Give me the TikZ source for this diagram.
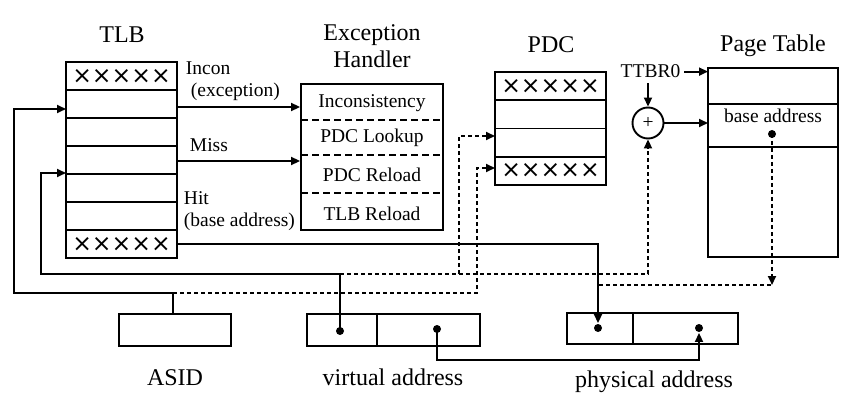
\documentclass[tikz,border=0pt]{standalone}
\usepackage{fontspec}
\setmainfont{Liberation Serif}
\newfontfamily\crossfont{DejaVu Sans}
\usetikzlibrary{arrows.meta,calc}
\begin{document}
\begin{tikzpicture}[x=1pt,y=-1pt,
  line width=1.9pt,
  bigtxt/.style={font=\fontsize{24}{24}\selectfont, inner sep=0pt, anchor=base},
  smalltxt/.style={font=\fontsize{19.5}{20}\selectfont, inner sep=0pt},
  cell/.style={draw, minimum width=#1, minimum height=28pt, inner sep=0pt, outer sep=0pt},
  cell/.default=111pt,
  xx/.style={font=\crossfont\fontsize{23.5}{23.5}\selectfont},
  arr/.style={-{Triangle[length=9pt,width=8pt]}},
  dotline/.style={dash pattern=on 4pt off 3pt},
  ehdash/.style={dash pattern=on 7pt off 4pt},
  blob/.style={circle, fill, inner sep=0pt, minimum size=8pt}
]
\useasboundingbox (0,0) rectangle (850,403);

% ---------- TLB ----------
\node[bigtxt] (tlbtitle) at (122,43) {TLB};
\node[cell, xx] (t1) at (121.5,76) {×××××};
\node[cell] (t2) at (121.5,104) {};
\node[cell] (t3) at (121.5,132) {};
\node[cell] (t4) at (121.5,160) {};
\node[cell] (t5) at (121.5,188) {};
\node[cell] (t6) at (121.5,216) {};
\node[cell, xx] (t7) at (121.5,244) {×××××};

\node[smalltxt, anchor=base west] (lincon) at (185,75) {Incon};
\node[smalltxt, anchor=base west] (lexc) at (190,96.5) {(exception)};
\node[smalltxt, anchor=base west] (lmiss) at (189,152) {Miss};
\node[smalltxt, anchor=base west] (lhit) at (183,205) {Hit};
\node[smalltxt, anchor=base west] (lbase) at (183,226.5) {(base address)};

% ---------- Exception handler ----------
\node[bigtxt] (ehtitle1) at (372,41) {Exception};
\node[bigtxt] (ehtitle2) at (372,68) {Handler};
\node[draw, minimum width=142pt, minimum height=146pt, inner sep=0pt] (eh) at (372,157) {};
\draw[ehdash] (301,120) -- (443,120);
\draw[ehdash] (301,155) -- (443,155);
\draw[ehdash] (301,193) -- (443,193);
\node[smalltxt, anchor=base] (eh1) at (372,108) {Inconsistency};
\node[smalltxt, anchor=base] (eh2) at (372,142.5) {PDC Lookup};
\node[smalltxt, anchor=base] (eh3) at (372,181.5) {PDC Reload};
\node[smalltxt, anchor=base] (eh4) at (372,220) {TLB Reload};

\coordinate (i1) at (177,107);
\coordinate (i2) at (177,161);
\draw[arr] (i1) -- (i1 -| eh.west);
\draw[arr] (i2) -- (i2 -| eh.west);

% ---------- PDC ----------
\node[bigtxt] (pdctitle) at (551,53) {PDC};
\node[cell, minimum height=28.25pt, xx] (p1) at (550.5,86.1) {×××××};
\node[cell, minimum height=28.25pt] (p2) at (550.5,114.4) {};
\node[cell, minimum height=28.25pt] (p3) at (550.5,142.6) {};
\node[cell, minimum height=28.25pt, xx] (p4) at (550.5,170.9) {×××××};

% ---------- Page table ----------
\node[bigtxt] (pttitle) at (773,52) {Page Table};
\node[cell=130pt, minimum height=36pt] (pt1) at (773,86) {};
\node[cell=130pt, minimum height=43pt] (pt2) at (773,125.5) {};
\node[cell=130pt, minimum height=110pt] (pt3) at (773,202) {};
\node[smalltxt, anchor=base] (ba) at (773,123) {base address};
\node[blob] (bad) at (772,134) {};

\node[smalltxt, anchor=base] (ttbr) at (650.5,78) {TTBR0};
\node[draw, circle, minimum size=31pt, inner sep=0pt, font=\fontsize{19.5}{20}\selectfont] (plus) at (648,123) {+};
\draw[arr] ($(ttbr.east)+(3,0)$) -- (ttbr.east -| pt1.west);
\draw[arr] ($(plus.north |- ttbr.south)+(0,4)$) -- (plus.north);
\draw[arr] (plus.east) -- (plus.east -| pt2.west);

\coordinate (c1) at (772,285);
\coordinate (c2) at (599,285);
\draw[dotline, arr] (bad.center) -- (c1);
\draw[dotline] (c2) -- (c1);

% ---------- bottom boxes ----------
\node[draw, minimum width=112pt, minimum height=32pt, inner sep=0pt] (asid) at (175,330) {};
\node[draw, minimum width=70pt, minimum height=32pt, inner sep=0pt] (va1) at (342,330) {};
\node[draw, minimum width=103pt, minimum height=32pt, inner sep=0pt] (va2) at (428.5,330) {};
\node[draw, minimum width=66pt, minimum height=31pt, inner sep=0pt] (pa1) at (600,328.5) {};
\node[draw, minimum width=105pt, minimum height=31pt, inner sep=0pt] (pa2) at (685.5,328.5) {};
\node[blob] (vd1) at (340,331) {};
\node[blob] (vd2) at (437,329) {};
\node[blob] (pd1) at (598,328) {};
\node[blob] (pd2) at (699,328) {};

\node[bigtxt] (lasid) at (175,385) {ASID};
\node[bigtxt] (lva) at (393,385) {virtual address};
\node[bigtxt] (lpa) at (654,387) {physical address};

% ---------- connectors ----------
\coordinate (a1) at (173,293);
\coordinate (a2) at (14,293);
\coordinate (a3) at (14,109);
\draw[arr] (asid.north -| a1) -- (a1) -- (a2) -- (a3) -- (a3 -| t2.west);
\coordinate (a4) at (477,293);
\coordinate (a5) at (477,168);
\draw[dotline, arr] (a1) -- (a4) -- (a5) -- (a5 -| p4.west);

\coordinate (v1) at (340,274);
\coordinate (v2) at (41,274);
\coordinate (v3) at (41,173);
\draw[arr] (vd1.center) -- (v1) -- (v2) -- (v3) -- (v3 -| t5.west);
\coordinate (v4) at (648,274);
\draw[dotline, arr] (v1) -- (v4) -- (plus.south);
\coordinate (v5) at (459,274);
\coordinate (v6) at (459,136);
\draw[dotline, arr] (v5) -- (v6) -- (v6 -| p3.west);

\draw[arr] (t7.east) -- (t7.east -| pd1.center) -- (pd1.north);

\coordinate (w1) at (437,360);
\draw[arr] (vd2.center) -- (w1) -- (w1 -| pd2.center) -- (pd2.south);
\end{tikzpicture}
\end{document}
